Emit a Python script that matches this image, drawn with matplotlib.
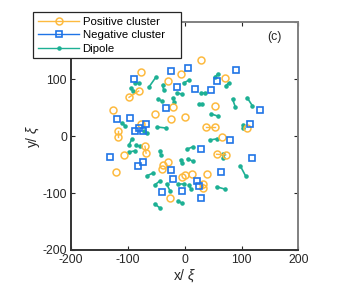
import matplotlib
matplotlib.use("Agg")
import matplotlib.pyplot as plt
from matplotlib.lines import Line2D
from matplotlib.patches import Rectangle

plt.rcParams['font.family'] = ['Liberation Sans', 'DejaVu Sans']
plt.rcParams['axes.unicode_minus'] = False
plt.rcParams['mathtext.fontset'] = 'custom'
plt.rcParams['mathtext.it'] = 'Liberation Sans:italic'
plt.rcParams['mathtext.rm'] = 'Liberation Sans'

# positive clusters (single vortices)
pos_x = [-77, 28, -7, -30, -126, -77, -53, -21, -25, 70, 54, 0, 110, 65,
         39, -4, -26, -107, -121, 0, 12, -40, -39, -30]
pos_y = [112, 133, 109, 96, 46, 21, 39, 51, 30, 102, 53, 33, 14, -2,
         -67, -72, -109, -33, -63, -68, -67, -58, -51, -46]
# positive clusters drawn as joined pairs
pos_pair_x1 = [-81, -118, 37, 56, 32, -70]
pos_pair_y1 = [79, 9, 16, -32, -84, -18]
pos_pair_x2 = [-98, -118, 53, 72, 32, -68]
pos_pair_y2 = [68, -2, 16, -33, -91, -30]

# negative clusters
neg_x = [-89, -25, -14, -33, -119, -96, -88, -81, -74, -68, 5, 91, 56, 18,
         46, 133, 114, 79, 28, 119, -25, -21, 63, 21, 25, -5, 28, -40,
         -132, -82, -74]
neg_y = [100, 114, 86, 49, 30, 32, 9, 14, 9, 21, 119, 116, 96, 82,
         81, 46, 21, -7, -23, -39, -60, -75, -63, -79, -88, -96, -109, -98,
         -37, -53, -46]

# dipoles (two ends each)
dip_x1 = [-63, -39, -88, -95, -49, -111, 58, 77, 7, 28, -14, -21, 84, 110,
          25, 46, 103, 44, -47, 4, 67, -7, 5, 98, -11, 7, 56, -12, -98, -86,
          -98, -44, -67, -53, -32, -53, -72]
dip_y1 = [86, 89, 93, 84, 16, 23, 109, 93, 98, 75, 75, 67, 65, 67,
          56, 39, 19, -7, 65, -23, -32, -42, -40, -53, -84, -86, -89, -114,
          -16, -16, -28, -26, -70, -86, -84, -119, 9]
dip_x2 = [-51, -37, -81, -91, -33, -105, 53, 72, -2, 35, -5, -19, 89, 119,
          30, 58, 103, 56, -40, 14, 67, -5, 14, 107, -2, 11, 70, -5, -93, -79,
          -88, -42, -56, -44, -26, -44, -67]
dip_y2 = [103, 81, 93, 79, 14, 18, 103, 88, 93, 75, 74, 60, 51, 53,
          56, 35, 14, -5, 61, -19, -39, -47, -44, -70, -84, -93, -93, -118,
          -5, -18, -26, -33, -65, -79, -96, -126, 5]

c_pos = '#FDBA3F'
c_neg = '#1F74E6'
c_dip = '#1DB094'

fig = plt.figure(figsize=(3.57, 2.87), dpi=100)
ax = fig.add_axes([0.199, 0.129, 0.637, 0.794])

for i in range(len(dip_x1)):
    ax.plot([dip_x1[i], dip_x2[i]], [dip_y1[i], dip_y2[i]], '-', color=c_dip,
            lw=1.2, marker='.', ms=4.5)
for i in range(len(pos_pair_x1)):
    ax.plot([pos_pair_x1[i], pos_pair_x2[i]], [pos_pair_y1[i], pos_pair_y2[i]],
            '-', color=c_pos, lw=1.0, marker='o', ms=5, mfc='none', mew=1.1)
ax.plot(pos_x, pos_y, 'o', color=c_pos, ms=5, mfc='none', mew=1.1)
ax.plot(neg_x, neg_y, 's', color=c_neg, ms=4.2, mfc='none', mew=1.2)

ax.set_xlim(-200, 200)
ax.set_ylim(-200, 200)
ax.set_xticks([-200, -100, 0, 100, 200])
ax.set_yticks([-200, -100, 0, 100, 200])
ax.tick_params(direction='in', length=3, top=True, right=True,
               labelsize=8.8, colors='#262626', pad=3)
for s in ['left', 'bottom']:
    ax.spines[s].set_color('#333333')
    ax.spines[s].set_linewidth(1.4)
for s in ['top', 'right']:
    ax.spines[s].set_color('#808080')
    ax.spines[s].set_linewidth(1.4)

ax.set_xlabel(r'x/ $\it{\xi}$', fontsize=10, color='#262626', labelpad=1)
ax.set_ylabel(r'y/ $\it{\xi}$', fontsize=10, color='#262626', labelpad=0)
ax.text(0.895, 0.934, '(c)', transform=ax.transAxes, fontsize=8.8,
        ha='center', va='center', color='#262626')

# legend frame drawn as a patch, legend itself without frame
box = Rectangle((0.0924, 0.798), 0.4146, 0.160, transform=fig.transFigure,
                facecolor='white', edgecolor='#262626', lw=0.9, zorder=5)
fig.patches.append(box)

handles = [
    Line2D([], [], color=c_pos, lw=1.0, marker='o', ms=5, mfc='none', mew=1.1),
    Line2D([], [], color=c_neg, lw=1.0, marker='s', ms=4.2, mfc='none', mew=1.2),
    Line2D([], [], color=c_dip, lw=1.0, marker='.', ms=4.5),
]
labels = ['Positive cluster', 'Negative cluster', 'Dipole']
leg = fig.legend(handles, labels, loc='upper left',
                 bbox_to_anchor=(0.107, 0.941), fontsize=8.2,
                 handlelength=3.6, handletextpad=0.3, labelspacing=0.3,
                 borderpad=0, borderaxespad=0, frameon=False)
leg.set_zorder(6)

fig.savefig('out.png', dpi=100)
